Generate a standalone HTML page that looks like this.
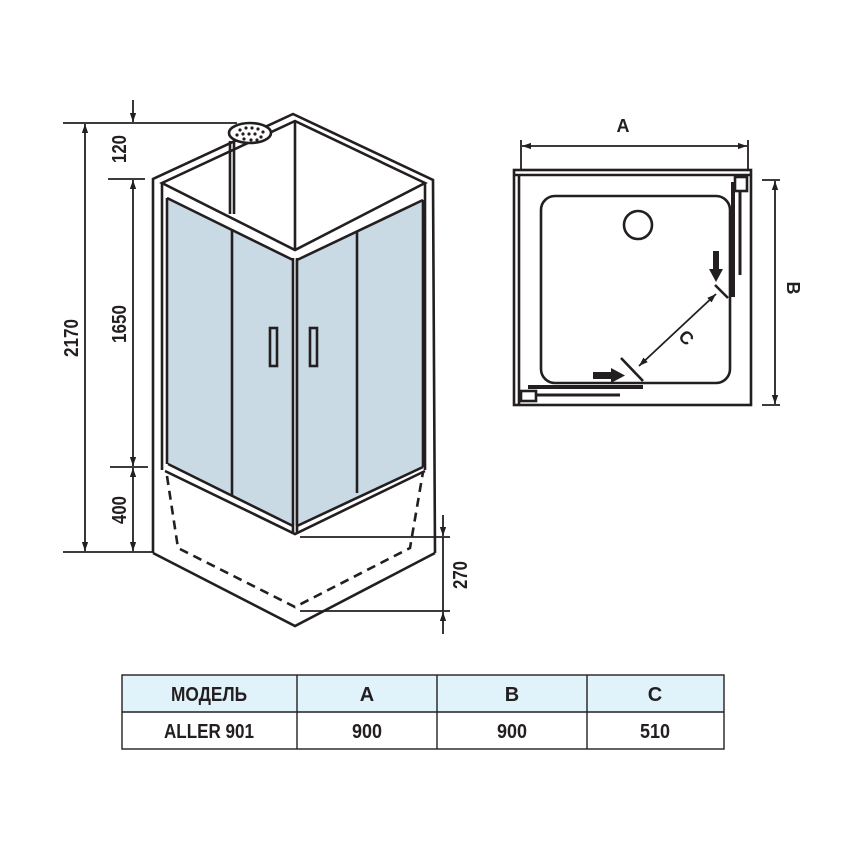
<!DOCTYPE html>
<html><head><meta charset="utf-8"><style>
html,body{margin:0;padding:0;background:#fff}
svg{display:block}
text{font-family:"Liberation Sans Narrow","Liberation Sans",sans-serif;font-weight:bold;fill:#231f20}
</style></head><body>
<svg width="850" height="850" viewBox="0 0 850 850" xmlns="http://www.w3.org/2000/svg">
<defs>
<marker id="ar" viewBox="0 0 10 10" refX="10" refY="5" markerWidth="9" markerHeight="9" orient="auto-start-reverse" markerUnits="userSpaceOnUse"><path d="M0,1.5 L10,5 L0,8.5 z" fill="#231f20"/></marker>
</defs>
<g stroke="#231f20" fill="none" stroke-width="2.6">
<polygon points="167,198 293,260 293,526 168,464" fill="#c9dae4" stroke="none"/>
<polygon points="295,260 423,200 423,467 295,526" fill="#c9dae4" stroke="none"/>
<polyline points="153,553 153,179 293,114 433,180 435,553"/>
<polyline points="153,553 295,626 435,553"/>
<polygon points="162,183 295,121 425,183 295,250"/>
<line x1="295" y1="121" x2="295" y2="250"/>
<polyline points="162,183 162,470"/>
<polyline points="425,183 425,470"/>
<line x1="167" y1="198" x2="167" y2="464"/>
<line x1="423" y1="200" x2="423" y2="467"/>
<line x1="167" y1="198" x2="293" y2="260"/>
<line x1="297" y1="260" x2="423" y2="200"/>
<line x1="293" y1="258" x2="293" y2="534"/>
<line x1="297" y1="258" x2="297" y2="534"/>
<line x1="168" y1="464" x2="293" y2="526"/>
<line x1="297" y1="526" x2="423" y2="467"/>
<polyline points="165,471 295,534 425,471"/>
<line x1="232" y1="229" x2="232" y2="495"/>
<line x1="357" y1="231" x2="357" y2="493"/>
<rect x="270" y="328" width="7" height="38"/>
<rect x="310" y="328" width="7" height="38"/>
<line x1="230" y1="141" x2="230" y2="214"/>
<line x1="234" y1="141" x2="234" y2="214"/>
<ellipse cx="250" cy="133" rx="21" ry="10" fill="#fff"/>
<g fill="#231f20" stroke="none">
<circle cx="240" cy="130" r="1.6"/><circle cx="246" cy="128" r="1.6"/><circle cx="252" cy="128" r="1.6"/><circle cx="258" cy="129" r="1.6"/><circle cx="263" cy="132" r="1.6"/>
<circle cx="237" cy="135" r="1.6"/><circle cx="243" cy="134" r="1.6"/><circle cx="249" cy="134" r="1.6"/><circle cx="255" cy="134" r="1.6"/><circle cx="261" cy="137" r="1.6"/>
<circle cx="244" cy="139" r="1.6"/><circle cx="251" cy="140" r="1.6"/><circle cx="257" cy="140" r="1.6"/>
</g>
<polyline points="167,476 178,548 295,607 410,548 423,472" stroke-dasharray="9,6"/>
<g stroke-width="1.8">
<line x1="63" y1="123" x2="237" y2="123"/>
<line x1="63" y1="552" x2="152" y2="552"/>
<line x1="108" y1="179" x2="145" y2="179"/>
<line x1="110" y1="467" x2="148" y2="467"/>
<line x1="85" y1="124" x2="85" y2="551" marker-start="url(#ar)" marker-end="url(#ar)"/>
<line x1="133" y1="100" x2="133" y2="122" marker-end="url(#ar)"/>
<line x1="133" y1="180" x2="133" y2="466" marker-start="url(#ar)" marker-end="url(#ar)"/>
<line x1="133" y1="468" x2="133" y2="551" marker-start="url(#ar)" marker-end="url(#ar)"/>
<line x1="300" y1="537" x2="450" y2="537"/>
<line x1="300" y1="611" x2="450" y2="611"/>
<line x1="443" y1="515" x2="443" y2="536" marker-end="url(#ar)"/>
<line x1="443" y1="537" x2="443" y2="611"/>
<line x1="443" y1="634" x2="443" y2="612" marker-end="url(#ar)"/>
</g>
<rect x="514" y="170" width="237" height="235"/>
<line x1="514" y1="175" x2="751" y2="175"/>
<line x1="519" y1="175" x2="519" y2="405"/>
<rect x="541" y="196" width="189" height="187" rx="14"/>
<circle cx="638" cy="225" r="14"/>
<g stroke-width="1.8">
<line x1="521" y1="140" x2="521" y2="170"/>
<line x1="748" y1="140" x2="748" y2="170"/>
<line x1="522" y1="146" x2="747" y2="146" marker-start="url(#ar)" marker-end="url(#ar)"/>
<line x1="762" y1="180" x2="780" y2="180"/>
<line x1="762" y1="405" x2="780" y2="405"/>
<line x1="775" y1="181" x2="775" y2="404" marker-start="url(#ar)" marker-end="url(#ar)"/>
<line x1="716" y1="294" x2="639" y2="366" marker-start="url(#ar)" marker-end="url(#ar)"/>
</g>
<line x1="733" y1="182" x2="733" y2="297" stroke-width="4"/>
<line x1="740" y1="180" x2="740" y2="275" stroke-width="3"/>
<rect x="735" y="177" width="12" height="14" fill="#fff"/>
<line x1="528" y1="387" x2="643" y2="387" stroke-width="4"/>
<line x1="534" y1="395" x2="620" y2="395" stroke-width="3"/>
<rect x="521" y="391" width="15" height="10" fill="#fff"/>
<line x1="715" y1="285" x2="728" y2="298"/>
<line x1="621" y1="358" x2="643" y2="381"/>
</g>
<g fill="#231f20">
<rect x="713" y="251" width="6" height="20"/>
<polygon points="709,269 723,269 716,282"/>
<rect x="593" y="372" width="20" height="7"/>
<polygon points="611,368 611,383 625,375.5"/>
</g>
<text x="623" y="132" font-size="18" text-anchor="middle">A</text>
<text transform="translate(787,288) rotate(90)" font-size="18" text-anchor="middle">B</text>
<text transform="translate(682,342) rotate(45)" font-size="18" text-anchor="middle">C</text>
<g font-size="20">
<text transform="translate(78,338) rotate(-90)" text-anchor="middle" textLength="38" lengthAdjust="spacingAndGlyphs">2170</text>
<text transform="translate(126,324) rotate(-90)" text-anchor="middle" textLength="38" lengthAdjust="spacingAndGlyphs">1650</text>
<text transform="translate(126,149) rotate(-90)" text-anchor="middle" textLength="28" lengthAdjust="spacingAndGlyphs">120</text>
<text transform="translate(126,510) rotate(-90)" text-anchor="middle" textLength="28" lengthAdjust="spacingAndGlyphs">400</text>
<text transform="translate(467,575) rotate(-90)" text-anchor="middle" textLength="28" lengthAdjust="spacingAndGlyphs">270</text>
</g>
<rect x="122" y="675" width="602" height="37" fill="#e0f2fa"/>
<g stroke="#231f20" stroke-width="1.4" fill="none">
<rect x="122" y="675" width="602" height="74"/>
<line x1="122" y1="712" x2="724" y2="712"/>
<line x1="297" y1="675" x2="297" y2="749"/>
<line x1="437" y1="675" x2="437" y2="749"/>
<line x1="587" y1="675" x2="587" y2="749"/>
</g>
<g font-size="20" text-anchor="middle">
<text x="209" y="701" textLength="76" lengthAdjust="spacingAndGlyphs">МОДЕЛЬ</text>
<text x="367" y="701">A</text>
<text x="512" y="701">B</text>
<text x="655" y="701">C</text>
<text x="209" y="738" textLength="90" lengthAdjust="spacingAndGlyphs">ALLER 901</text>
<text x="367" y="738" textLength="30" lengthAdjust="spacingAndGlyphs">900</text>
<text x="512" y="738" textLength="30" lengthAdjust="spacingAndGlyphs">900</text>
<text x="655" y="738" textLength="30" lengthAdjust="spacingAndGlyphs">510</text>
</g>
</svg>
</body></html>
